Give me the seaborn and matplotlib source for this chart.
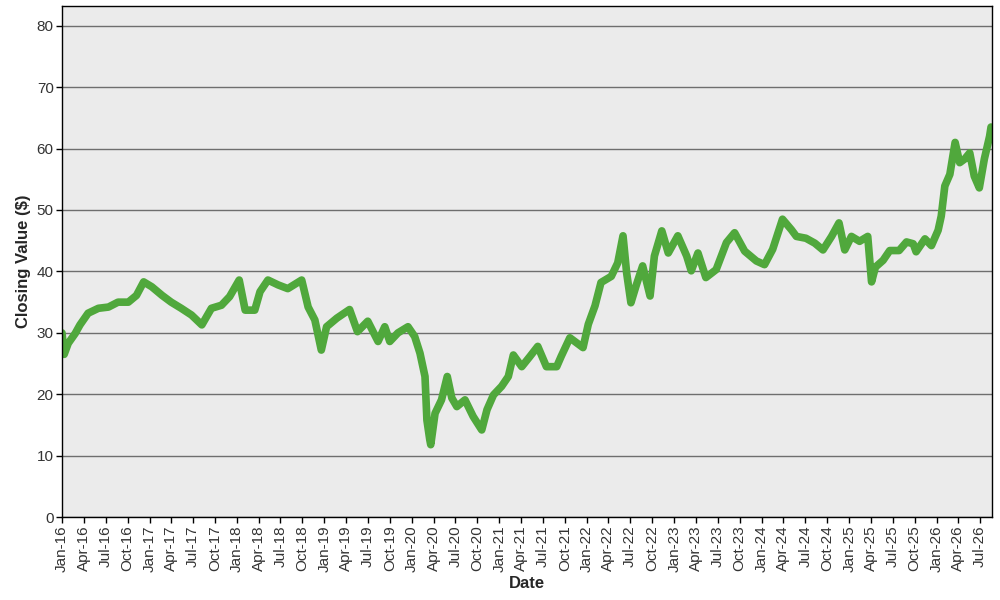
import pandas as pd
import matplotlib
matplotlib.use("Agg")
import matplotlib.pyplot as plt
import matplotlib.dates as mdates
import seaborn as sns

# closing values
dates = [
    "2016-01-01", "2016-01-10", "2016-01-27", "2016-02-25", "2016-03-16", "2016-04-19",
    "2016-06-01", "2016-07-13", "2016-08-22", "2016-10-04", "2016-11-07", "2016-12-07",
    "2017-01-10", "2017-02-22", "2017-04-01", "2017-05-13", "2017-06-25", "2017-08-07",
    "2017-09-16", "2017-10-28", "2017-12-01", "2018-01-10", "2018-02-04", "2018-03-16",
    "2018-04-07", "2018-05-10", "2018-06-22", "2018-08-01", "2018-09-28", "2018-10-25",
    "2018-11-22", "2018-12-19", "2019-01-10", "2019-02-22", "2019-04-16", "2019-05-19",
    "2019-07-01", "2019-08-13", "2019-09-10", "2019-10-01", "2019-11-04", "2019-12-16",
    "2020-01-13", "2020-02-04", "2020-02-25", "2020-03-04", "2020-03-16", "2020-03-20",
    "2020-04-07", "2020-05-04", "2020-05-28", "2020-06-16", "2020-07-07", "2020-08-10",
    "2020-09-13", "2020-10-19", "2020-11-10", "2020-12-07", "2021-01-10", "2021-02-07",
    "2021-02-28", "2021-04-04", "2021-05-07", "2021-06-10", "2021-07-16", "2021-08-28",
    "2021-09-16", "2021-10-22", "2021-12-16", "2022-01-07", "2022-02-04", "2022-03-01",
    "2022-04-13", "2022-05-10", "2022-06-01", "2022-06-16", "2022-07-04", "2022-07-25",
    "2022-08-22", "2022-09-22", "2022-10-10", "2022-11-10", "2022-12-07", "2023-01-16",
    "2023-02-22", "2023-03-13", "2023-04-10", "2023-05-13", "2023-06-25", "2023-08-07",
    "2023-09-10", "2023-10-22", "2023-12-10", "2024-01-13", "2024-02-16", "2024-03-28",
    "2024-05-04", "2024-05-25", "2024-07-04", "2024-08-10", "2024-09-13", "2024-10-19",
    "2024-11-19", "2024-12-13", "2025-01-10", "2025-02-13", "2025-03-19", "2025-04-04",
    "2025-04-20", "2025-05-22", "2025-06-19", "2025-07-28", "2025-08-28", "2025-09-25",
    "2025-10-07", "2025-11-13", "2025-12-10", "2026-01-07", "2026-01-20", "2026-02-04",
    "2026-02-25", "2026-03-19", "2026-04-07", "2026-04-28", "2026-05-19", "2026-06-07",
    "2026-06-28", "2026-07-19", "2026-08-10", "2026-08-16",
]
closing = [
    30.0, 26.5, 28.3, 29.9, 31.3, 33.2,
    34.0, 34.2, 35.0, 35.0, 36.1, 38.3,
    37.5, 36.1, 35.0, 34.0, 32.9, 31.3,
    34.0, 34.5, 35.9, 38.6, 33.7, 33.7,
    36.7, 38.6, 37.8, 37.2, 38.6, 34.2,
    32.1, 27.2, 31.0, 32.4, 33.8, 30.2,
    31.9, 28.6, 31.0, 28.6, 30.0, 31.0,
    29.4, 26.7, 22.9, 15.8, 12.6, 11.8,
    16.9, 19.1, 22.9, 19.4, 18.0, 19.1,
    16.4, 14.2, 17.5, 19.9, 21.3, 22.9,
    26.4, 24.5, 26.1, 27.8, 24.5, 24.5,
    26.2, 29.2, 27.6, 31.4, 34.4, 38.2,
    39.2, 41.4, 45.8, 39.8, 34.9, 37.6,
    40.9, 36.0, 42.5, 46.6, 43.0, 45.8,
    42.5, 40.1, 43.0, 39.0, 40.3, 44.7,
    46.3, 43.3, 41.7, 41.1, 43.6, 48.5,
    46.8, 45.7, 45.4, 44.6, 43.5, 45.7,
    47.9, 43.5, 45.7, 44.9, 45.7, 38.3,
    40.7, 41.8, 43.4, 43.4, 44.8, 44.5,
    43.2, 45.3, 44.2, 46.7, 49.0, 53.9,
    55.8, 61.0, 57.7, 58.3, 59.3, 55.5,
    53.6, 58.3, 62.0, 63.5,
]

df = pd.DataFrame({"Date": pd.to_datetime(dates), "Closing": closing})

sns.set_theme(style="white")
plt.rcParams["font.family"] = ["Liberation Sans", "DejaVu Sans"]

fig = plt.figure(figsize=(10, 6), dpi=100)
ax = fig.add_axes([0.062, 0.138, 0.93, 0.852])
ax.set_facecolor("#EBEBEB")

sns.lineplot(data=df, x="Date", y="Closing", color="#50A83C", linewidth=5.5, ax=ax)

ax.set_ylim(0, 83.2)
ax.set_xlim(pd.Timestamp("2016-01-01"), pd.Timestamp("2026-08-20"))
ax.set_yticks(range(0, 90, 10))
ax.yaxis.grid(True, color="#6E6E6E", linewidth=1)
ax.set_axisbelow(True)

ax.xaxis.set_major_locator(mdates.MonthLocator(bymonth=[1, 4, 7, 10]))
ax.xaxis.set_major_formatter(mdates.DateFormatter("%b-%y"))
plt.setp(ax.get_xticklabels(), rotation=90)

ax.tick_params(axis="both", which="major", direction="out", length=4, width=1,
               color="black", labelsize=11, labelcolor="#333333", bottom=True, left=True, pad=2)
for s in ax.spines.values():
    s.set_color("black")
    s.set_linewidth(1)

ax.set_xlabel("Date", fontsize=12, fontweight="bold", labelpad=3)
ax.set_ylabel("Closing Value ($)", fontsize=12, fontweight="bold", labelpad=4)

plt.savefig("out.png", dpi=100)
plt.close()
